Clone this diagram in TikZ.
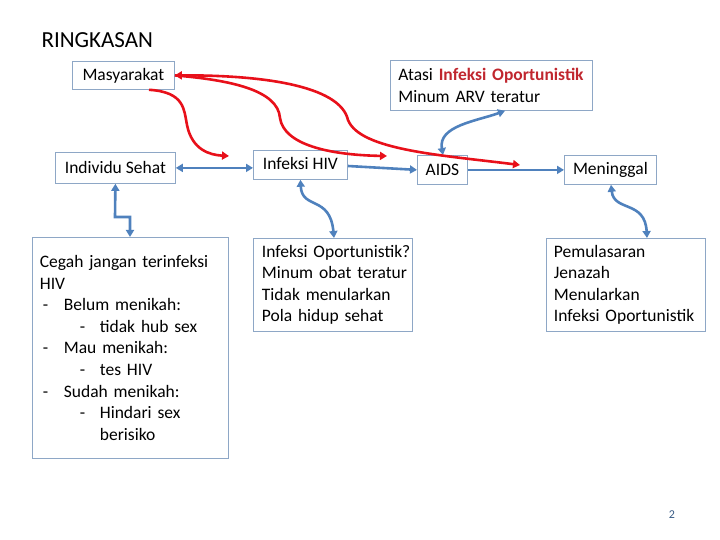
\documentclass[tikz,border=0pt]{standalone}
\usepackage{fontspec}
\setmainfont{Carlito}
\usetikzlibrary{arrows.meta}
\definecolor{bx}{HTML}{8EA7C6}
\definecolor{ar}{HTML}{4F81BD}
\definecolor{rd}{HTML}{E8101A}
\definecolor{rt}{HTML}{C0262E}
\begin{document}
\begin{tikzpicture}[x=1pt,y=-1pt,
  box/.style={draw=bx,line width=0.8pt,anchor=north west,inner sep=0pt,font=\fontsize{17.5}{21.6}\selectfont},
  ba/.style={draw=ar,line width=2.6pt,-{Triangle[length=7pt,width=8pt]}},
  bb/.style={draw=ar,line width=2.6pt,{Triangle[length=7pt,width=8pt]}-{Triangle[length=7pt,width=8pt]}},
  ra/.style={draw=rd,line width=2.6pt,-{Triangle[length=7pt,width=8pt]}},
  rb/.style={draw=rd,line width=2.6pt,{Triangle[length=7pt,width=8pt]}-{Triangle[length=7pt,width=8pt]}}]
\useasboundingbox (0,0) rectangle (720,540);
\node[anchor=west,font=\fontsize{23}{26}\selectfont] (title) at (38,40) {RINGKASAN};
\node[box,minimum width=102,minimum height=28] (mas) at (72,61) {Masyarakat};
\node[box,minimum width=202,minimum height=50,align=left,text width=196] (ata) at (390,60) {\hspace*{5pt}Atasi {\color{rt}\bfseries Infeksi Oportunistik}\\\hspace*{5pt}Minum ARV teratur};
\node[box,minimum width=120,minimum height=31] (ind) at (55,152) {Individu Sehat};
\node[box,minimum width=94,minimum height=29] (hiv) at (253,150) {\raisebox{3pt}{Infeksi HIV}};
\node[box,minimum width=50,minimum height=29] (aids) at (417,155) {AIDS};
\node[box,minimum width=92,minimum height=29] (men) at (564,155) {Meninggal};
\node[box,minimum width=159,minimum height=93,text width=156,align=left] (iop) at (253,238) {\hspace*{7pt}Infeksi Oportunistik?\\\hspace*{7pt}Minum obat teratur\\\hspace*{7pt}Tidak menularkan\\\hspace*{7pt}Pola hidup sehat};
\node[box,minimum width=159,minimum height=93,text width=156,align=left] (pem) at (546,238) {\hspace*{6pt}Pemulasaran\\\hspace*{6pt}Jenazah\\\hspace*{6pt}Menularkan\\\hspace*{6pt}Infeksi Oportunistik};
\node[box,minimum width=196,minimum height=221,text width=193,align=left] (ceg) at (32,237) {%
\hspace*{6pt}Cegah jangan terinfeksi\\
\hspace*{6pt}HIV\\
\hspace*{9pt}\makebox[21pt][l]{-}Belum menikah:\\
\hspace*{46pt}\makebox[20pt][l]{-}tidak hub sex\\
\hspace*{9pt}\makebox[21pt][l]{-}Mau menikah:\\
\hspace*{46pt}\makebox[20pt][l]{-}tes HIV\\
\hspace*{9pt}\makebox[21pt][l]{-}Sudah menikah:\\
\hspace*{46pt}\makebox[20pt][l]{-}Hindari sex\\
\hspace*{66pt}berisiko};
\node[font=\fontsize{12}{14}\selectfont,text=ar!70!black] (pg) at (672,515) {2};
% blue connectors
\coordinate (c1) at (229,156);
\draw[bb] (ind.east) -- (hiv.west |- ind.east);
\draw[ba] (348,166) -- (aids.west);
\draw[ba] (aids.east) -- (men.west);
\draw[bb] (ind.south) -- (115,217) -- (130,217) -- (ceg.north -| 130,0);
\draw[bb] (443,155) to[out=100,in=200] (ata.south -| 505,0);
\draw[bb] (hiv.south) .. controls (302,210) and (330,195) .. (iop.north -| 334,0);
\draw[bb] (men.south -| 611,0) .. controls (614,212) and (645,200) .. (pem.north -| 647,0);
% red connectors
\draw[ra] (mas.south -| 149,0) .. controls (185,92) and (184,110) .. (187,125) .. controls (192,150) and (210,155) .. (c1);
\draw[ra] (mas.east) .. controls (230,80) and (278,90) .. (280,118) .. controls (284,145) and (330,155) .. (387,156);
\draw[rb] (mas.east) .. controls (260,75) and (340,85) .. (348,120) .. controls (360,150) and (440,155) .. (520,165);
\end{tikzpicture}
\end{document}
